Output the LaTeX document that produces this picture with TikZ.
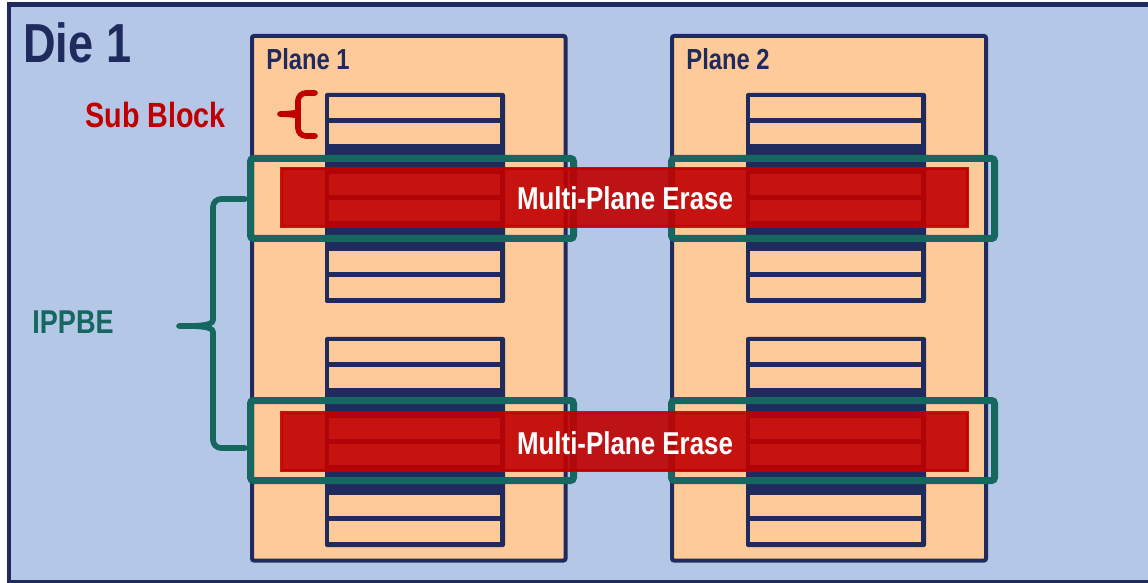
\documentclass[tikz,border=0pt]{standalone}
\usepackage{fontspec}
\setmainfont{Liberation Sans}
\newfontfamily\narrowsf[FakeStretch=0.82]{Liberation Sans}
\definecolor{diebg}{HTML}{B4C7E7}
\definecolor{navy}{HTML}{1F2B5C}
\definecolor{peach}{HTML}{FFCA99}
\definecolor{tealline}{HTML}{166760}
\definecolor{darkred}{HTML}{C00000}

\begin{document}
\begin{tikzpicture}[x=0.5pt, y=-0.5pt,
  every node/.style = {inner sep=0pt, font=\narrowsf\bfseries},
  die/.style = {draw=navy, fill=diebg, line width=2.25pt},
  plane/.style = {draw=navy, fill=peach, line width=2pt, rounded corners=1pt},
  ippbe/.style = {draw=tealline, line width=3.5pt, rounded corners=1.5pt},
  erase/.style = {draw=darkred, fill=darkred, line width=1.5pt, fill opacity=0.9, draw opacity=0.9},
  bracepath/.style = {line width=2.8pt, line cap=round, rounded corners=4pt}]

  \useasboundingbox (0,0) rectangle (1148,583);
  \clip (0,0) rectangle (1148,583);

  % die and planes
  \draw[die] (9,4.5) rectangle (1160,582);
  \draw[plane] (252,36) rectangle (565.5,560.5);
  \draw[plane] (672,36) rectangle (986,560.5);

  % sub block stacks
  \foreach \px in {325, 746}
    \foreach \py in {93, 337} {
      \fill[navy, rounded corners=1pt] (\px,\py) rectangle ++(180,210);
      \foreach \k in {0,1,3,4,6,7}
        \fill[peach] (\px+4,\py+4+\k*25.7) rectangle ++(171,21);
    }

  % IPPBE boxes and erase bars
  \foreach \dy in {0, 242} {
    \draw[ippbe] (250.5,158.5+\dy) rectangle (573.5,238.5+\dy);
    \draw[ippbe] (671.5,158.5+\dy) rectangle (994.5,238.5+\dy);
  }
  \foreach \dy/\nm in {0/erase1, 244/erase2} {
    \draw[erase] (281.5,168.5+\dy) rectangle (967.5,226.5+\dy);
    \node[anchor=base, text=white, font=\narrowsf\bfseries\fontsize{15.8}{18}\selectfont] (\nm) at (625,210+\dy) {Multi-Plane Erase};
  }

  % labels
  \node[anchor=base west, text=navy, font=\narrowsf\bfseries\fontsize{27.5}{30}\selectfont] (dielabel) at (23,63) {Die 1};
  \node[anchor=base west, text=navy, font=\narrowsf\bfseries\fontsize{14.5}{17}\selectfont] (plane1) at (266,70) {Plane 1};
  \node[anchor=base west, text=navy, font=\narrowsf\bfseries\fontsize{14.5}{17}\selectfont] (plane2) at (686,70) {Plane 2};
  \node[anchor=base west, text=darkred, font=\narrowsf\bfseries\fontsize{17.5}{20}\selectfont] (subblock) at (85,128) {Sub Block};
  \node[anchor=base west, text=tealline, font=\narrowsf\bfseries\fontsize{16.5}{19}\selectfont] (ippbe) at (32,334) {IPPBE};

  % braces
  \coordinate (sbtop) at (315,93);
  \coordinate (sbtip) at (280,114);
  \coordinate (sbbot) at (315,136);
  \draw[bracepath, darkred] (sbtop) -- (298,93) -- (298,108) to[out=-90,in=0] (sbtip)
    (sbtip) to[out=0,in=90] (298,120) -- (298,136) -- (sbbot);

  \coordinate (iptop) at (245,199);
  \coordinate (iptip) at (179,326);
  \coordinate (ipbot) at (245,448);
  \draw[bracepath, tealline] (iptop) -- (213,199) -- (213,312) to[out=-90,in=0] (iptip)
    (iptip) to[out=0,in=90] (213,340) -- (213,448) -- (ipbot);
\end{tikzpicture}
\end{document}
